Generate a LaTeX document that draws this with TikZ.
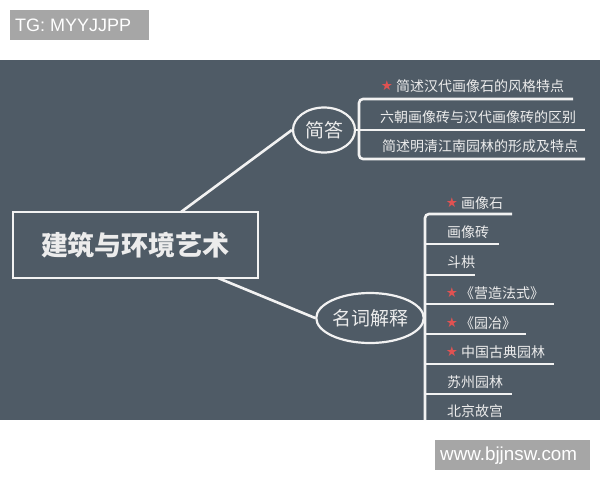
\documentclass[tikz,border=0pt]{standalone}
\usepackage{fontspec}
\setmainfont{Liberation Sans}
\newfontfamily\cjk{Noto Sans CJK SC}
\newfontfamily\symf{DejaVu Sans}
\usetikzlibrary{shapes.geometric}
\definecolor{bg}{RGB}{79,91,102}
\definecolor{ln}{RGB}{242,242,242}
\definecolor{tx}{RGB}{236,236,236}
\definecolor{starc}{RGB}{224,82,82}
\definecolor{lab}{RGB}{166,166,166}
\begin{document}
\begin{tikzpicture}[x=1pt,y=-1pt,
  item/.style={anchor=west,inner sep=0,text=tx,font=\cjk\fontsize{14}{14}\selectfont},
  starmark/.style={inner sep=0,text=starc,font=\symf\fontsize{13.5}{13.5}\selectfont},
  link/.style={draw=ln,line width=2.6pt,rounded corners=4pt},
  oval/.style={ellipse,draw=ln,line width=2.2pt,inner sep=0,text=tx,font=\cjk\fontsize{19}{19}\selectfont},
  tagtext/.style={anchor=west,inner sep=0,text=white,font=\fontsize{18}{18}\selectfont}]
\useasboundingbox (0,0) rectangle (600,480);
\fill[white] (0,0) rectangle (600,480);
% labels
\fill[lab] (10,10) rectangle (149,40);
\node[tagtext] (tg) at (15,25.5) {TG: MYYJJPP};
\fill[lab] (435,440) rectangle (590,470);
\node[tagtext,font=\fontsize{18.8}{19}\selectfont] (www) at (440,455.5) {www.bjjnsw.com};
% background
\fill[bg] (0,60) rectangle (600,420);
% central node
\node[draw=ln,line width=2.4pt,minimum width=245,minimum height=66,inner sep=0,
      text=tx,font=\cjk\bfseries\fontsize{27}{27}\selectfont] (main) at (135.5,245) {建筑与环境艺术};
% branch ovals
\node[oval,minimum width=62,minimum height=45] (jd) at (324,130) {简答};
\node[oval,minimum width=102,minimum height=50] (mc) at (370,318) {名词解释};
\coordinate (m1) at (181,212);
\coordinate (m2) at (218,278);
\draw[link] (m1) -- (jd.west);
\draw[link] (m2) -- (mc.west);
% bracket 1
\coordinate (b1) at (359,130);
\draw[link] (jd.east) -- (b1);
\draw[link] (573,99) -- (359,99) -- (359,159) -- (585,159);
\draw[link] (b1) -- (585,130);
\node[starmark] (s1) at (387,86) {★};
\node[item] (t1) at (396,86) {简述汉代画像石的风格特点};
\node[item] (t2) at (380,117) {六朝画像砖与汉代画像砖的区别};
\node[item] (t3) at (382,146) {简述明清江南园林的形成及特点};
% bracket 2
\coordinate (b2) at (425,318);
\draw[link] (mc.east) -- (b2);
\draw[link] (512,214) -- (425,214) -- (425,420);
\draw[link] (425,244) -- (499,244);
\draw[link] (425,275) -- (475,275);
\draw[link] (425,304) -- (554,304);
\draw[link] (425,334) -- (526,334);
\draw[link] (425,364) -- (554,364);
\draw[link] (425,394) -- (512,394);
\node[starmark] (s4) at (452,203) {★};
\node[item] (n1) at (461,203) {画像石};
\node[item] (n2) at (447,232) {画像砖};
\node[item] (n3) at (447,262) {斗栱};
\node[starmark] (s5) at (452,293) {★};
\node[item] (n4) at (460,293) {《营造法式》};
\node[starmark] (s6) at (452,323) {★};
\node[item] (n5) at (460,323) {《园冶》};
\node[starmark] (s7) at (452,352) {★};
\node[item] (n6) at (461,352) {中国古典园林};
\node[item] (n7) at (447,382) {苏州园林};
\node[item] (n8) at (447,411) {北京故宫};
\end{tikzpicture}
\end{document}
